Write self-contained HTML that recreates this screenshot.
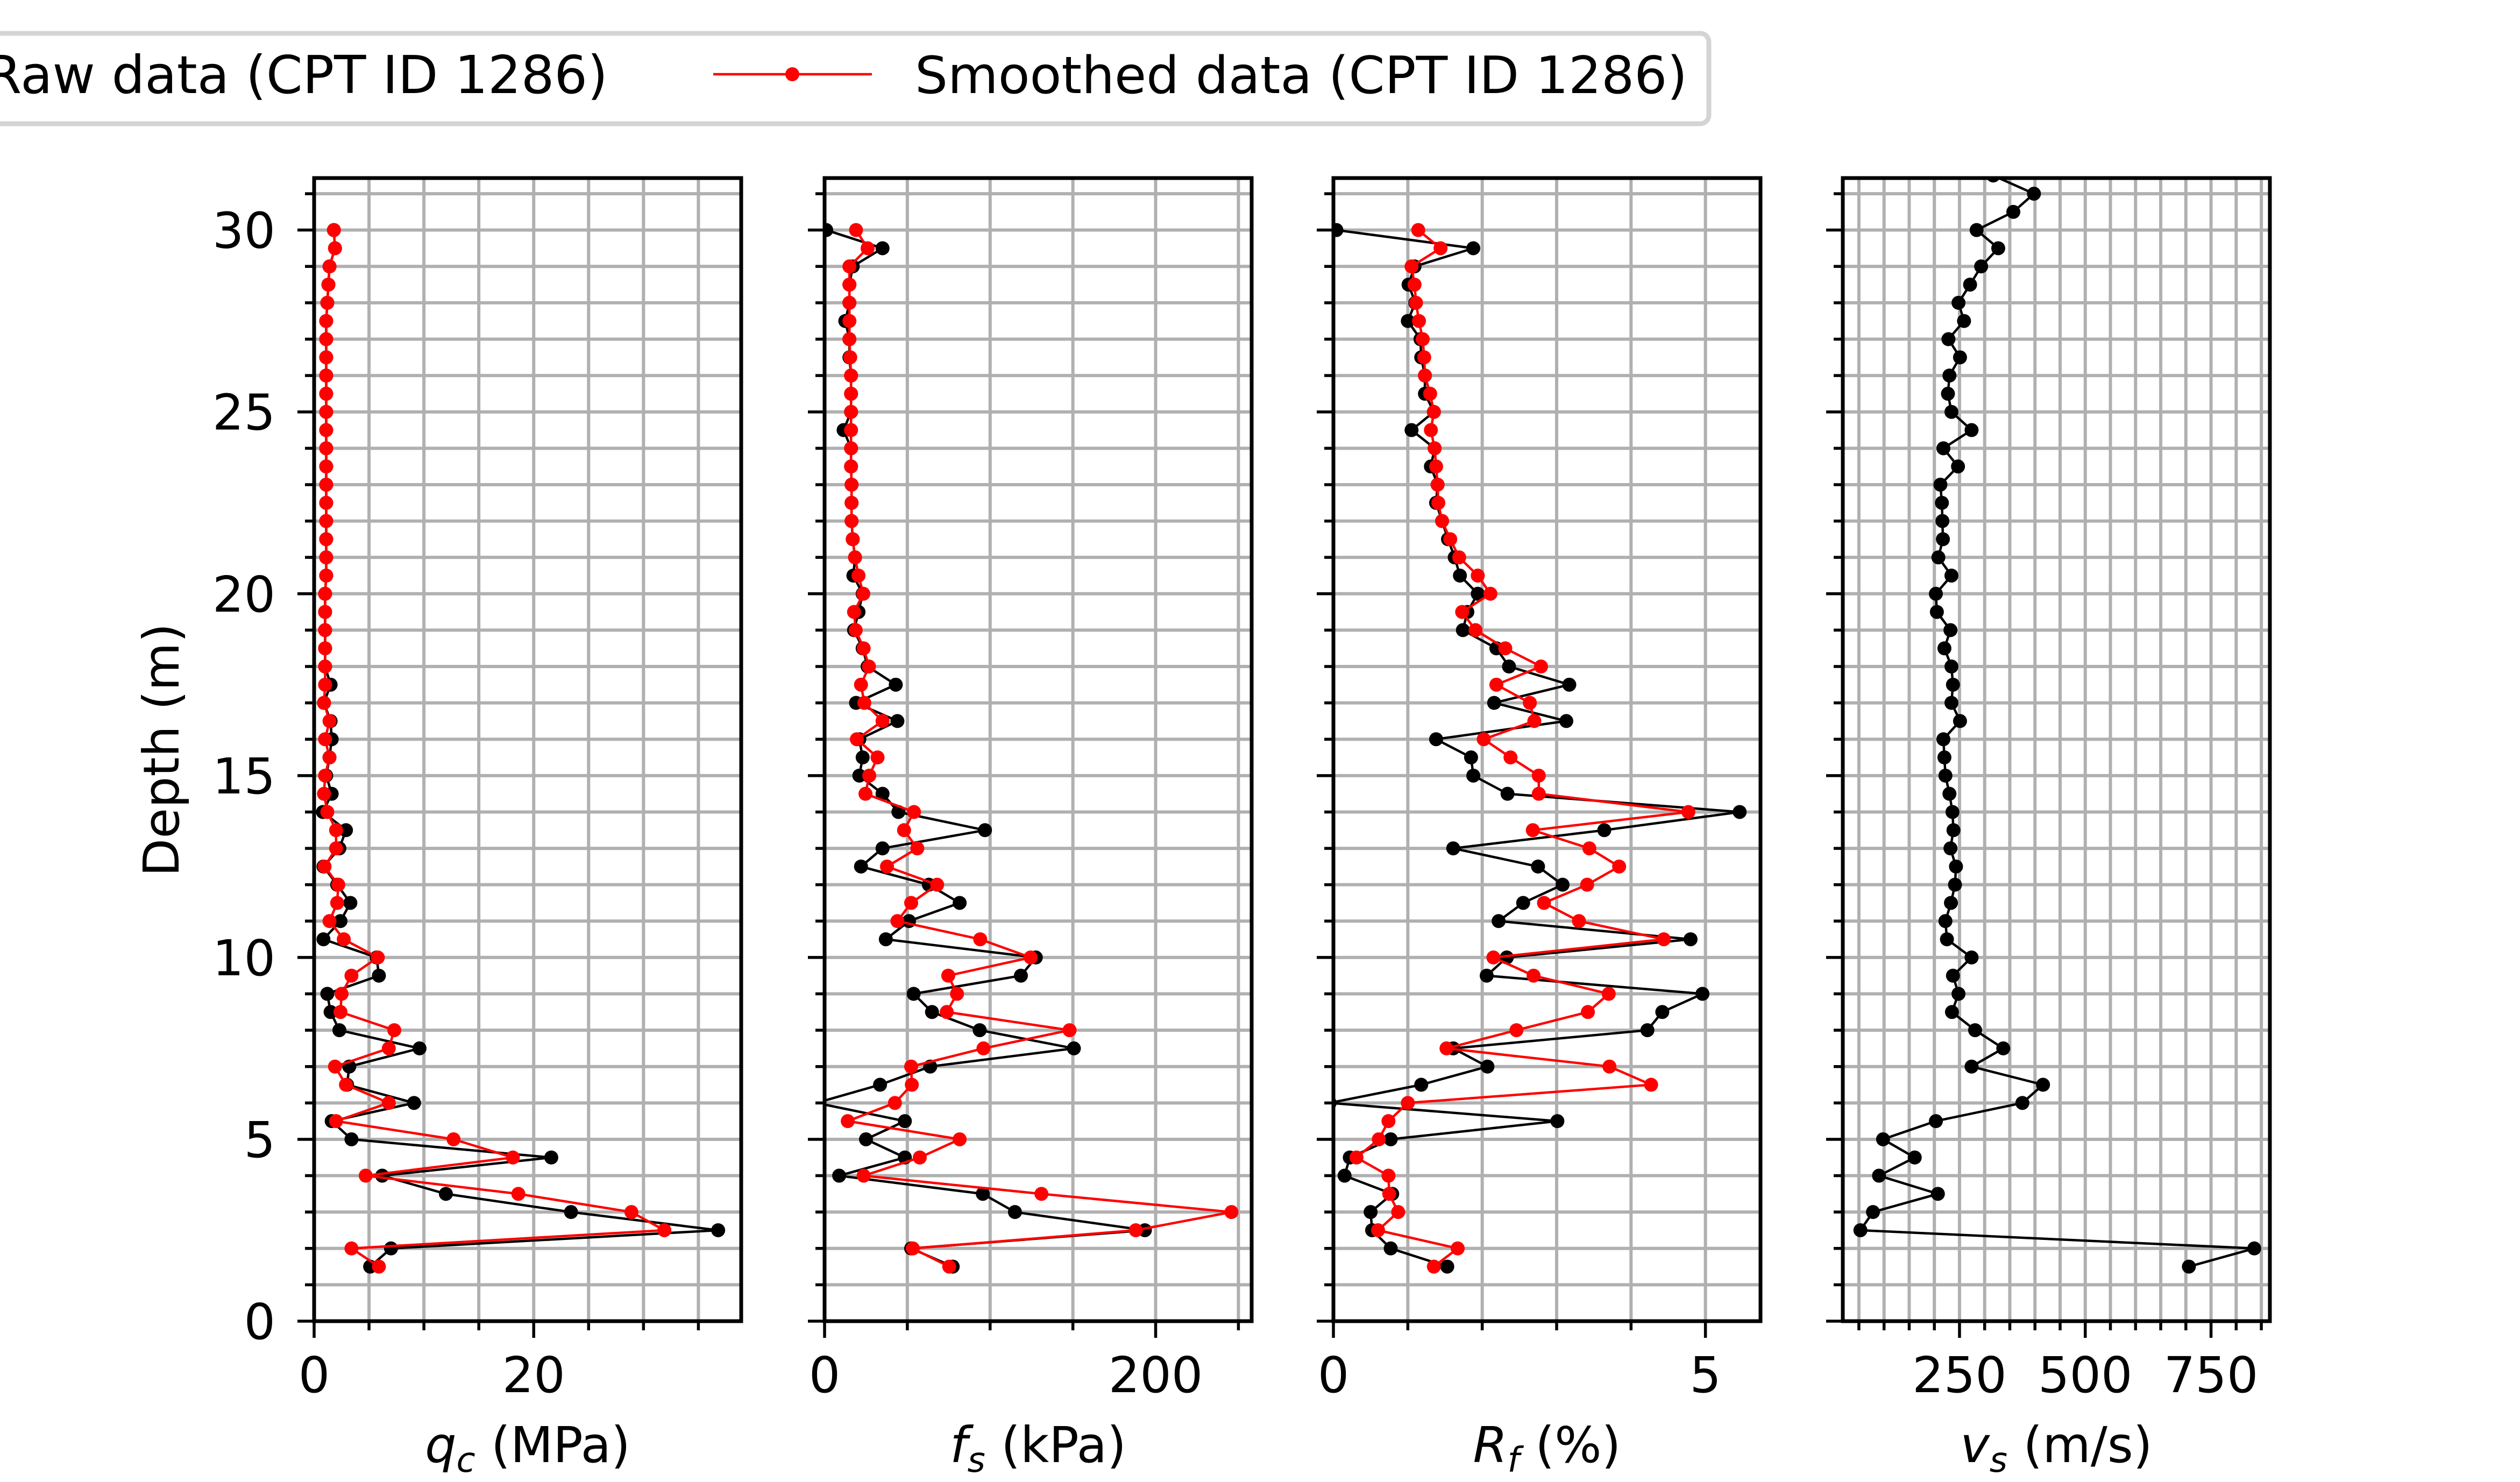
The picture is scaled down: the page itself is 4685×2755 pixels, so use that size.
<!DOCTYPE html>
<html><head><meta charset="utf-8"><style>
html,body{margin:0;padding:0;background:#fff;}
svg{display:block;font-family:"DejaVu Sans","Liberation Sans",sans-serif;}
</style></head><body>
<svg id="fig" xmlns="http://www.w3.org/2000/svg" width="4685" height="2755" viewBox="0 0 4685 2755">
<rect width="4685" height="2755" fill="#fff"/>
<g id="legend">
<rect x="-40" y="62" width="3217" height="168" rx="16" fill="#fff" stroke="#d4d4d4" stroke-width="9"/>
<text x="1130" y="173" font-size="97" text-anchor="end">Raw data (CPT ID 1286)</text>
<line x1="1326" y1="138" x2="1621" y2="138" stroke="#ff0000" stroke-width="4.5"/>
<circle cx="1473" cy="138" r="13" fill="#ff0000"/>
<text x="1701" y="173" font-size="95" textLength="1436" lengthAdjust="spacingAndGlyphs">Smoothed data (CPT ID 1286)</text>
</g>
<text transform="translate(332,1394) rotate(-90)" font-size="92" text-anchor="middle">Depth (m)</text>
</svg>
<script>
const depths = [30,29.5,29,28.5,28,27.5,27,26.5,26,25.5,25,24.5,24,23.5,23,22.5,22,21.5,21,20.5,20,19.5,19,18.5,18,17.5,17,16.5,16,15.5,15,14.5,14,13.5,13,12.5,12,11.5,11,10.5,10,9.5,9,8.5,8,7.5,7,6.5,6,5.5,5,4.5,4,3.5,3,2.5,2,1.5];
const qcRaw = [1.8,1.9,1.4,1.3,1.2,1.1,1.1,1.1,1.1,1.1,1.1,1.1,1.1,1.1,1.1,1.1,1.1,1.1,1.1,1.1,1.0,1.0,1.0,1.0,1.0,1.5,0.9,1.5,1.6,1.4,1.1,1.6,0.8,2.9,2.3,0.85,2.1,3.3,2.4,0.85,5.7,5.9,1.2,1.5,2.3,9.6,3.2,3.0,9.1,1.6,3.4,21.6,6.2,12.0,23.4,36.8,7.0,5.1];
const qcSmooth = [1.8,1.9,1.4,1.3,1.2,1.1,1.1,1.1,1.1,1.1,1.1,1.1,1.1,1.1,1.1,1.1,1.1,1.1,1.1,1.1,1.0,1.0,1.0,1.0,1.0,1.0,0.9,1.4,1.0,1.4,1.0,0.9,1.2,2.0,2.0,0.95,2.2,2.1,1.4,2.7,5.8,3.4,2.5,2.4,7.3,6.8,1.9,2.9,6.8,2.0,12.7,18.1,4.7,18.6,28.9,31.9,3.4,5.9];
const fsRaw = [1,35,17,15,15,12.5,15,15,16,16,16,11.5,16,16,16.3,16.3,16.3,17,18.4,17.4,23,20.5,17.8,23,26,43,19,44,21,23,21,35,44.6,96.9,35,22,63,81.6,51,37,127.6,118.6,53.8,64.9,93.7,150.6,63.8,33.5,-5,48.5,25,48.5,8.8,95.6,115,193.5,52.3,77.4];
const fsSmooth = [19,26,15,15,15,15,15,15.5,16,16,16,16,16,16,16.3,16.3,16.3,17,18.4,20.5,23.4,17.8,18.8,23.6,26.8,22,24,35,19.5,32,27,24.7,54,48,56,37.7,68,52.3,44,94,124.5,74.7,80,73.8,148,96,52.3,52.7,42.5,14,81.6,57.5,23.6,131,245.8,188,53.3,75.3];
const rfRaw = [0.04,1.88,1.09,1.01,1.10,1.0,1.17,1.18,1.23,1.23,1.35,1.05,1.36,1.31,1.4,1.38,1.46,1.54,1.63,1.7,1.94,1.8,1.74,2.19,2.36,3.17,2.16,3.13,1.38,1.85,1.88,2.34,5.46,3.64,1.61,2.75,3.08,2.55,2.22,4.8,2.33,2.06,4.96,4.42,4.22,1.61,2.07,1.18,-0.05,3.01,0.77,0.22,0.15,0.79,0.5,0.52,0.77,1.53];
const rfSmooth = [1.14,1.44,1.05,1.09,1.11,1.15,1.2,1.22,1.23,1.3,1.35,1.31,1.36,1.38,1.4,1.41,1.46,1.57,1.69,1.94,2.11,1.73,1.91,2.31,2.79,2.19,2.64,2.7,2.02,2.38,2.76,2.76,4.77,2.68,3.44,3.84,3.41,2.83,3.3,4.44,2.15,2.69,3.7,3.42,2.46,1.52,3.71,4.27,1.0,0.74,0.61,0.31,0.74,0.75,0.87,0.6,1.67,1.35];
const vsDepths = [31.5,31,30.5,30,29.5,29,28.5,28,27.5,27,26.5,26,25.5,25,24.5,24,23.5,23,22.5,22,21.5,21,20.5,20,19.5,19,18.5,18,17.5,17,16.5,16,15.5,15,14.5,14,13.5,13,12.5,12,11.5,11,10.5,10,9.5,9,8.5,8,7.5,7,6.5,6,5.5,5,4.5,4,3.5,3,2.5,2,1.5];
const vsRaw = [317,398,357,284,327,293,271,248,259,228,251,230,227,234,274,218,247,212,215,216,217,208,234,203,205,232,220,234,237,234,251,218,220,222,230,236,238,232,243,241,233,222,225,274,237,248,235,281,337,274,416,375,203,98,161,90,207,78,53,836,706];
const yTicks = [0,5,10,15,20,25,30];
const qcTicks = [0,20];
const fsTicks = [0,200];
const rfTicks = [0,5];
const vsTicks = [250,500,750];

const NS = 'http://www.w3.org/2000/svg';
const svg = document.getElementById('fig');
const Y0 = 2456, Y1 = 331, YMAX = 31.43;
function yScale(d){ return Y0 - (d / YMAX) * (Y0 - Y1); }
function mk(tag, attrs, parent){ const e = document.createElementNS(NS, tag); for (const k in attrs) e.setAttribute(k, attrs[k]); parent.appendChild(e); return e; }

const panels = [
  {key:'qc', left:584, xmin:0, xmax:38.9, minor:5, major:qcTicks, series:[[depths,qcRaw,'#000'],[depths,qcSmooth,'#ff0000']], label:['q','c',' (MPa)']},
  {key:'fs', left:1533, xmin:0, xmax:258, minor:50, major:fsTicks, series:[[depths,fsRaw,'#000'],[depths,fsSmooth,'#ff0000']], label:['f','s',' (kPa)']},
  {key:'rf', left:2479, xmin:0, xmax:5.74, minor:1, major:rfTicks, series:[[depths,rfRaw,'#000'],[depths,rfSmooth,'#ff0000']], label:['R','f',' (%)']},
  {key:'vs', left:3426, xmin:18, xmax:867, minor:50, major:vsTicks, series:[[vsDepths,vsRaw,'#000']], label:['v','s',' (m/s)']}
];
const W = 794;
panels.forEach((p, pi) => {
  const g = mk('g', {}, svg);
  
  
  const xs = v => p.left + (v - p.xmin) / (p.xmax - p.xmin) * W;
  const clipId = 'clip' + pi;
  const cp = mk('clipPath', {id: clipId}, g);
  mk('rect', {x: p.left, y: Y1, width: W, height: Y0 - Y1}, cp);
  const grid = mk('g', {stroke:'#b0b0b0', 'stroke-width':6}, g);
  
  
  for (let d = 0; d <= 31; d++) mk('line', {x1:p.left, x2:p.left+W, y1:yScale(d), y2:yScale(d)}, grid);
  const start = Math.ceil(p.xmin / p.minor) * p.minor;
  for (let v = start; v <= p.xmax + 1e-9; v += p.minor) {
    const x = xs(v);
    mk('line', {x1:x, x2:x, y1:Y1, y2:Y0}, grid);
    const isMajor = p.major.some(m => Math.abs(m - v) < 1e-6);
    mk('line', {x1:x, x2:x, y1:Y0, y2:Y0 + (isMajor ? 31 : 17), stroke:'#000', 'stroke-width':5.5}, g);
  }
  p.major.forEach(m => {
    const t = mk('text', {x: xs(m), y: 2588, 'font-size': 92, 'text-anchor':'middle'}, g);
    
    
    t.textContent = m;
  });
  for (let d = 0; d <= 31; d++) {
    const isMajor = d % 5 === 0;
    mk('line', {x1:p.left - (isMajor ? 31 : 17), x2:p.left, y1:yScale(d), y2:yScale(d), stroke:'#000', 'stroke-width':5.5}, g);
  }
  if (pi === 0) {
    yTicks.forEach(d => {
      const t = mk('text', {x: 512, y: yScale(d) + 33, 'font-size': 92, 'text-anchor':'end'}, g);
      
      
      t.textContent = d;
    });
  }
  const dg = mk('g', {'clip-path': 'url(#' + clipId + ')'}, g);
  p.series.forEach((s, si) => {
    const [ds, vals, col] = s;
    const pts = ds.map((d, i) => xs(vals[i]).toFixed(1) + ',' + yScale(d).toFixed(1)).join(' ');
    const pl = mk('polyline', {points: pts, fill:'none', stroke: col, 'stroke-width': 4.5, 'stroke-linejoin':'round'}, dg);
    
    
    ds.forEach((d, i) => {
      const c = mk('circle', {cx: xs(vals[i]), cy: yScale(d), r: 13, fill: col}, dg);
      
      
    });
  });
  const fr = mk('rect', {x: p.left, y: Y1, width: W, height: Y0 - Y1, fill:'none', stroke:'#000', 'stroke-width': 7}, g);
  
  
  const lab = mk('text', {x: p.left + W/2, y: 2718, 'font-size': 92, 'text-anchor':'middle'}, g);
  
  
  const t1 = mk('tspan', {'font-style':'italic'}, lab); t1.textContent = p.label[0];
  const t2 = mk('tspan', {'font-style':'italic', 'font-size':64, dy: 18}, lab); t2.textContent = p.label[1];
  const t3 = mk('tspan', {dy: -18}, lab); t3.textContent = p.label[2];
});
</script>
</body></html>
